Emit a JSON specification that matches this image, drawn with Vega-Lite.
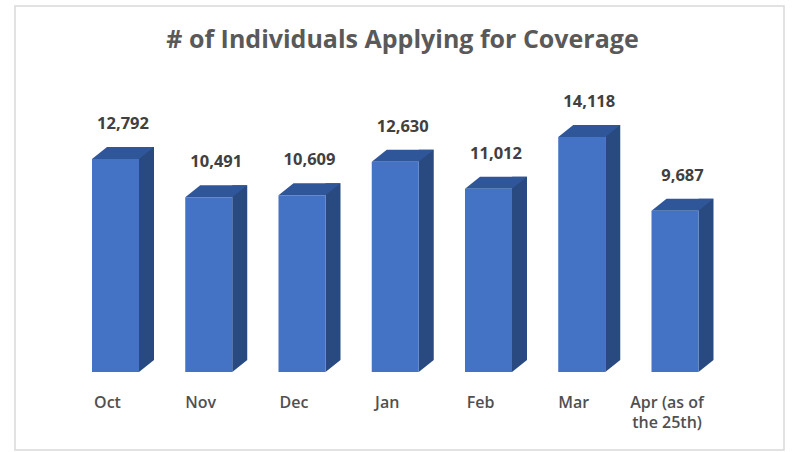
{
  "$schema": "https://vega.github.io/schema/vega-lite/v6.json",
  "width": 769,
  "height": 444,
  "autosize": {"type": "none"},
  "padding": {"left": 15, "top": 6, "right": 8, "bottom": 2},
  "background": "white",
  "config": {"view": {"stroke": "#d9d9d9", "strokeWidth": 1.5}, "font": "Open Sans"},
  "title": {
    "text": "# of Individuals Applying for Coverage",
    "font": "Open Sans",
    "fontSize": 25,
    "fontWeight": "bold",
    "color": "#595959",
    "anchor": "middle",
    "frame": "group",
    "baseline": "alphabetic",
    "offset": -67,
    "dx": 3
  },
  "data": {
    "values": [
      {"month": "Oct", "label": "Oct", "value": 12792},
      {"month": "Nov", "label": "Nov", "value": 10491},
      {"month": "Dec", "label": "Dec", "value": 10609},
      {"month": "Jan", "label": "Jan", "value": 12630},
      {"month": "Feb", "label": "Feb", "value": 11012},
      {"month": "Mar", "label": "Mar", "value": 14118},
      {"month": "Apr", "label": "Apr (as of\nthe 25th)", "value": 9687}
    ]
  },
  "encoding": {
    "x": {
      "field": "month",
      "type": "nominal",
      "sort": null,
      "scale": {"paddingInner": 0, "paddingOuter": 0.6233, "align": 0.4634},
      "axis": null
    }
  },
  "layer": [
    {
      "mark": {"type": "bar", "width": 15, "xOffset": 31, "yOffset": -12, "y2Offset": -12, "color": "#284a80"},
      "encoding": {
        "y": {"field": "value", "type": "quantitative", "scale": {"domain": [-4685, 21982], "nice": false, "zero": false}, "axis": null},
        "y2": {"datum": 0}
      }
    },
    {
      "mark": {"type": "point", "shape": "M23.5,-12L23.5,0L38.5,-12Z", "size": 4, "filled": true, "opacity": 1, "color": "#284a80", "strokeWidth": 0},
      "encoding": {"y": {"datum": 0, "type": "quantitative"}}
    },
    {
      "mark": {"type": "point", "shape": "M-23.5,0L23.5,0L38.5,-12L-8.5,-12Z", "size": 4, "filled": true, "opacity": 1, "color": "#30569a", "strokeWidth": 0},
      "encoding": {"y": {"field": "value", "type": "quantitative"}}
    },
    {
      "mark": {"type": "bar", "width": 47, "color": "#4472c4"},
      "encoding": {"y": {"field": "value", "type": "quantitative"}, "y2": {"datum": 0}}
    },
    {
      "mark": {"type": "text", "dx": 7.5, "dy": -35, "baseline": "middle", "fontSize": 16.5, "fontWeight": "bold", "color": "#404040"},
      "encoding": {
        "y": {"field": "value", "type": "quantitative"},
        "text": {"field": "value", "type": "quantitative", "format": ","}
      }
    },
    {
      "mark": {"type": "text", "dx": -8, "dy": 36, "baseline": "alphabetic", "fontSize": 16, "fontWeight": 600, "color": "#505050", "lineBreak": "\n", "lineHeight": 20},
      "encoding": {"y": {"datum": 0, "type": "quantitative"}, "text": {"field": "label"}}
    }
  ]
}
